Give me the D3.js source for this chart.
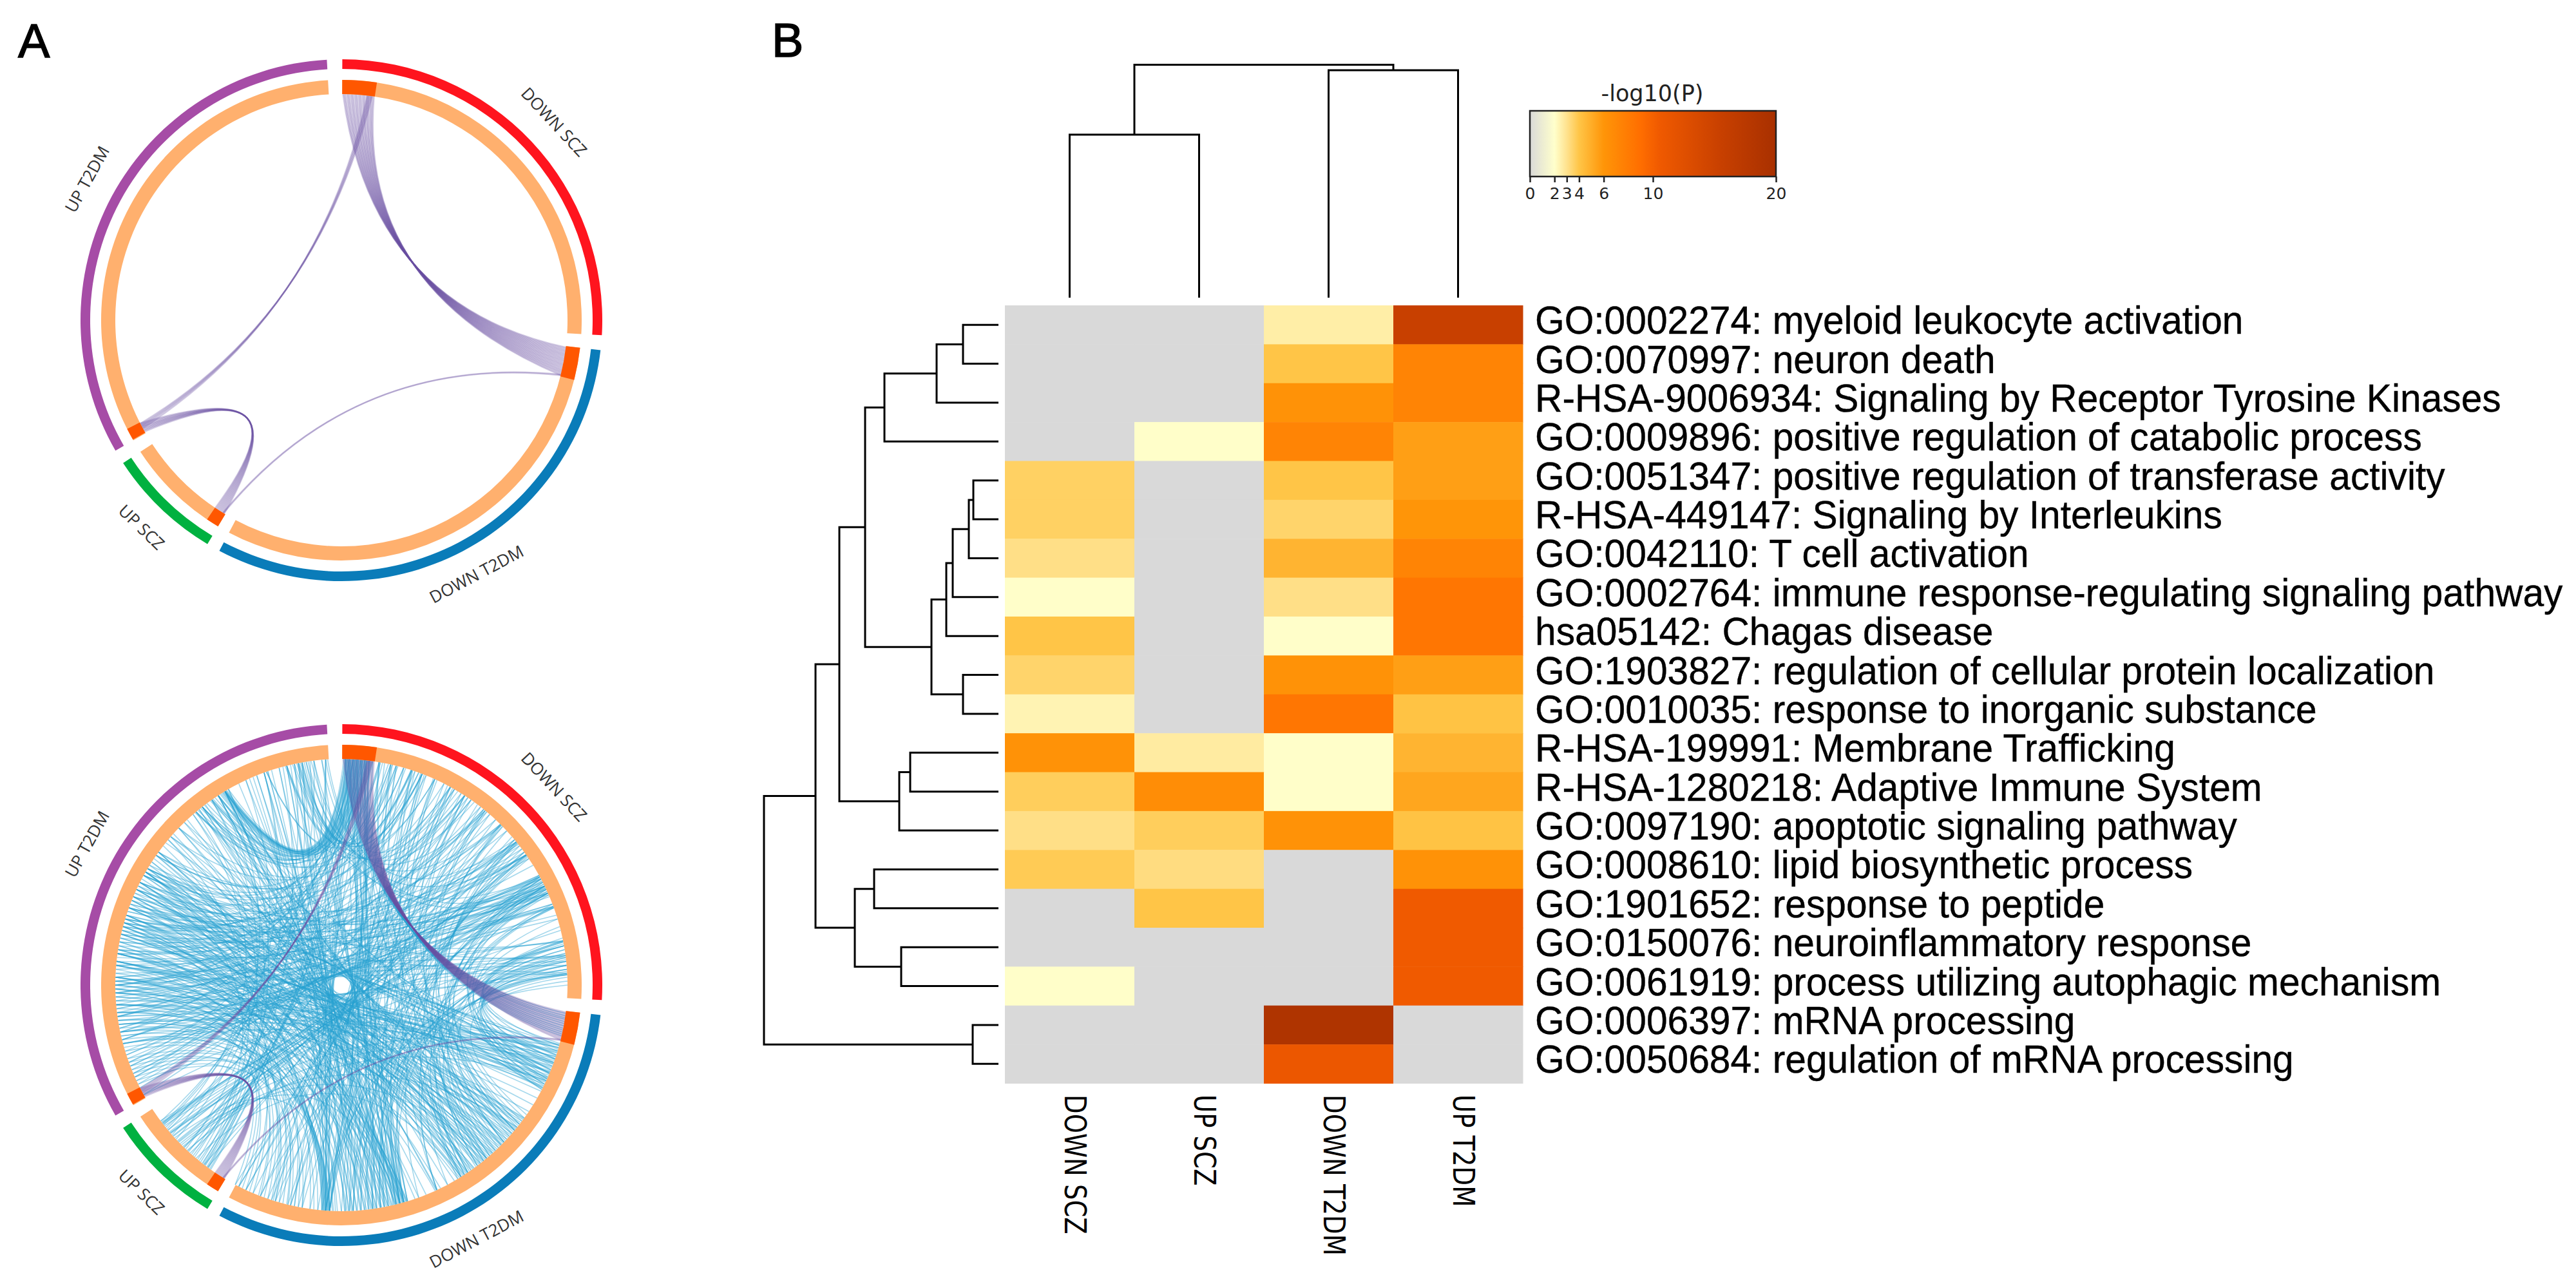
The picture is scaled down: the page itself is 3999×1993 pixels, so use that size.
<!DOCTYPE html>
<html><head><meta charset="utf-8">
<script src="https://d3js.org/d3.v7.min.js"></script>
<style>html,body{margin:0;padding:0;background:#fff}svg{display:block}</style>
</head><body>
<svg id="c" width="3999" height="1993" viewBox="0 0 3999 1993"></svg>
<script>
// ---------- Panel B data ----------
const columns = ["DOWN SCZ","UP SCZ","DOWN T2DM","UP T2DM"];
const rows = [
 "GO:0002274: myeloid leukocyte activation",
 "GO:0070997: neuron death",
 "R-HSA-9006934: Signaling by Receptor Tyrosine Kinases",
 "GO:0009896: positive regulation of catabolic process",
 "GO:0051347: positive regulation of transferase activity",
 "R-HSA-449147: Signaling by Interleukins",
 "GO:0042110: T cell activation",
 "GO:0002764: immune response-regulating signaling pathway",
 "hsa05142: Chagas disease",
 "GO:1903827: regulation of cellular protein localization",
 "GO:0010035: response to inorganic substance",
 "R-HSA-199991: Membrane Trafficking",
 "R-HSA-1280218: Adaptive Immune System",
 "GO:0097190: apoptotic signaling pathway",
 "GO:0008610: lipid biosynthetic process",
 "GO:1901652: response to peptide",
 "GO:0150076: neuroinflammatory response",
 "GO:0061919: process utilizing autophagic mechanism",
 "GO:0006397: mRNA processing",
 "GO:0050684: regulation of mRNA processing"];
const values = [
 [0,0,2.6,15.5],[0,0,4,7.3],[0,0,6.2,7.3],[0,2.05,7.3,5.6],[3.6,0,4,5.6],
 [3.6,0,3.5,6],[3.1,0,4.7,7.3],[2.05,0,3.1,8.4],[4,0,2.05,8.4],[3.5,0,6.2,5.6],
 [2.4,0,8.4,4.1],[6.2,2.7,2.05,4.7],[3.7,6.6,2.05,5.3],[3.1,3.7,6.2,4.1],[3.8,3.2,0,6.2],
 [0,4,0,10.5],[0,0,0,10.5],[2.05,0,0,10.5],[0,0,19,0],[0,0,11,0]];
const colorStops = [0,2,3,4,6,9,10.5,15.5,20];
const colorHexes = ["#d9d9d9","#ffffcc","#ffe28e","#ffc547","#ff9508","#ff6e00","#f05a00","#c84000","#a83000"];
const colorTicks = [0,2,3,4,6,10,20];
// dendrograms: [height, childA, childB]; a number child is a leaf index
const rowTree = [364,
 [284,
  [247,
   [207,
    [177,[96,[55,0,1],2],3],
    [104,[81,[71,[46,[39,4,5],6],7],8],[55,9,10]]],
   [154,[137,11,12],13]],
  [223,[193,14,15],[151,16,17]]],
 [40,18,19]];
const colTree = [361.5,[253,0,1],[353,2,3]];

// ---------- Panel A data (degrees clockwise from 12 o'clock) ----------
const segNames  = ["DOWN SCZ","DOWN T2DM","UP SCZ","UP T2DM"];
const segStart  = [0.2,96.6,210.9,240];
const segEnd    = [93.3,207.9,236.8,356.8];
const segColors = ["#ff141e","#0a7cb9","#00b140","#a64ca6"];
const segLabelAngle = [47,152,224,299];
const hitStart = [0.2,96.6,210.9,240.2];
const hitEnd   = [8.5,104.4,214,243.1];
// purple links: shared genes [from,to]
const purpleSczT2dm = [[0.4,96.9],[0.7,97.2],[1,97.5],[1.4,97.8],[1.7,98.1],[2,98.4],[2.4,98.7],[2.7,99],[3,99.3],[3.4,99.6],[3.7,99.9],[4,100.2],[4.4,100.5],[4.7,100.8],[5,101.1],[5.4,101.4],[5.7,101.7],[6,102],[6.4,102.3],[6.7,102.6],[7,102.9],[7.4,103.2],[7.7,103.5],[8,103.8],[8.3,104.1]];
const purpleSczUpT2dm = [[6.6,241.5],[6.9,241.9],[7.2,242.2],[7.5,242.5],[7.8,242.8]];
const purpleUpPair = [[240.5,211.2],[240.8,211.5],[241,211.8],[241.3,212.1],[241.5,212.4],[241.8,212.7],[242,213],[242.3,213.3],[242.6,213.6],[242.9,213.9]];
const purpleT2dmUpScz = [[103.9,211.4],[104.1,211.6]];
const waists = {sczT2dm:[51,142],sczUp:[300.5,98],upPair:[224,211],t2dmUp:[157.7,132]};
// blue links: shared pathways [from,to]
const blueDownSczUpT2dm = [[1,329],[1.6,329.2],[2.1,328.8],[2.7,329.5],[3,328.4],[3.6,329],[4.2,327.6],[4.7,328.6],[5.3,329.3],[5.9,327.9],[1.3,326.8],[2.4,325.1],[3.3,324.6],[4.4,322.7],[1.9,321.5],[5.6,319.7],[6.4,323.5],[7.2,320.6],[6.8,328.2],[7.8,327],[0.6,330],[2.9,326],[4.9,325.4],[3.9,322],
[14,350],[18,349],[21,348],[33,346],[39.5,351],[28.8,340.6],[50.7,356.5],[64,356],[54.8,353],[61.4,347.5],[24.4,345.6],[44.7,352.3],[66,349.6],[20.9,348.6],[18.2,351.5],[31,355],[12.6,346],[9.6,350.5],[16,340.6],[36,349.2],
[50.7,285],[54.8,290],[61.4,272],[64,276],[66,281],[69.6,288],[62,295],[63.5,268],[64.5,262],[65,258],[61,283],[66.5,300],[50,297],[54,301],[55,264],[39.5,270],[39,278],[44.7,286],[33.1,274],[33,293],[28.8,301],[24.4,306],[20.9,314],[18.2,322],[14,320],[12.6,325],[9.6,329],[78.7,271],[82.5,279],[87.4,266],[87,286],[82,261],[79,292],[86,255],[83,296],[84,273],[69,267],[69.9,277],[70,259],[64.2,284],[62.8,289],[64.8,291],[65.6,263],[63,299],[61.8,275],[51,266],[51.5,282],[52,294],[53,271],[55,287],[56,279],[43,269],[45,291],[40,283],[38,265],[34,287],[32,280],[30,297],[27,289],[22,299],[20,287],[18,305],[16,311],[14.5,278],[12,286],[10,302],[21,270],[19,259],[29,256],[35,252],[41,249],[47,247],[58,246],[67,251],[73,256],[76,244],[2,275],[3,285],[4,295],[5,305],[6,262],[7,270],[1,290],[2.5,258],[4.5,268],[6.5,300],[7.5,281],[1.5,250],[3.5,246],[5.5,272],
[64,248],[61.4,245],[66,250],[69.6,253],[78.7,262],[82.5,264],[87.4,268],[50.7,241],[54.8,244],[61,243],[65,247],[69,252],[72,256],[80,258],[84,263],[85,270],[62,249],[63,241]];
const blueDownT2dmUpT2dm = [[105.5,288],[106,276],[106.5,295],[107,266],[107.5,283],[108,301],[108.5,272],[109,290],[109.5,260],[110,279],[110.5,306],[111,285],[111.5,268],[112,293],[112.7,275],[113,299],[113.5,255],[114,282],[115,270],[115.5,287],[116,263],[117,296],[117.5,322],[114.5,329],[112.2,327],[109.2,320],
[120,278],[122,290],[124,265],[126,284],[126.5,297],[127,273],[128,301],[129,288],[129.6,258],[130,276],[131,293],[131.5,267],[132,281],[133,305],[134,271],[134.7,286],[135,262],[135.5,295],[136,279],[137,300],[137.5,269],[138,290],[138.5,275],[139,257],[140,283],[140.5,297],[141,265],[141.5,314],[142,287],[142.5,272],[143,302],[144,278],[144.5,261],[145,292],[146,283],[146.5,270],[147,295],[147.5,306],[148,276],[148.5,288],[149,255],
[150,322],[152,329],[155,327],[155.5,285],[154,300],[158,319],[160,311],[161,329],
[163,272],[163.2,280],[163.5,290],[163.8,265],[164,297],[164.2,285],[164.5,329],[164.8,327],[165,322],[165.3,276],[165.6,301],[166,269],[166.3,293],[166.6,350],[167,341],[167.5,283],[168,260],[168.5,306],[169,278],[169.7,295],[170,346],[171,288],[171.5,270],[172,255],[172.5,314],[173,299],[173.6,263],[174,280],[175,349],[176,292],[177,274],[177.5,321],[178,286],[178.6,257],[179,305],[180,268],[181,296],[181.5,325],[182,278],[182.3,284],[183,250],[183.2,258],[183.4,265],[183.6,247],[183.8,272],[184,254],[184.2,261],[184.4,279],[184.6,251],[184.8,268],[185,286],[186,293],[187,248],[188,300],[190,259],[191,275],[192,308],[193,263],[193.7,245],[194,287],[195,269],[196,297],[197,253],[197.5,281],[198,260],[199,291],[200,267],[201,249],[201.5,276],[203,285],[204,303],[205,256],[206,272],[207,264],[208,246],
[105.5,282],[106.2,290],[107.3,278],[108.2,293],[109.1,284],[110.2,297],[111.2,276],[112.4,288],[113.2,299],[114.2,286],[115.2,292],[116.4,301],[117.2,305],[118,294],
[126.2,303],[127.5,295],[128.5,309],[129.3,300],[130.5,311],[131.2,314],[132.4,298],[133.5,316],[134.3,304],[135.2,320],[136.5,310],[137.2,322],[138.2,299],[139.5,316],[140.2,325],[141.2,306],[142.2,321],[143.5,327],[144.2,312],[145.5,329],[146.2,317],[147.2,323],[148.2,329],
[155.2,330],[163.3,335],[163.9,341],[164.3,346],[164.9,338],[165.2,349],[165.8,344],[166.2,333],[166.8,351],[167.2,329],[168.2,340],[169.2,353],[170.2,327],[171.2,348],[172.2,336],[173.2,355],[174.2,346],[175.2,342],[176.2,350],[177.2,356],[178.2,338],[179.2,349],
[105.2,275],[106.8,268],[108.4,262],[110.4,258],[112.6,265],[114.6,271],[116.6,260],
[183.1,352],[183.5,344],[183.9,356],[184.1,340],[184.5,347],[184.9,337]];
const blueDownSczDownT2dm = [[78.7,107],[79,110],[80,105.5],[81,113],[82.5,108],[83,116],[84,111],[85,114.5],[86,109],[87.4,105],[87,112],[75,117],[73,115],[70,113],[69.6,117.5],[66,116],[64,114],
[61.4,128],[62,134],[63,140],[64,146],[65,131],[65.5,137],[66.5,143],[69,149],[69.7,155],[61,164],[62.5,170],[63.5,177],[64.2,183],[65,190],[66,197],
[50.7,130],[51,138],[52,145],[53,152],[54,160],[54.8,166],[55.5,175],[56,184],[50,126],[49,142],[47,169],[44.7,135],[45,147],[45.5,163],[43,183],[41,193],[39.5,129],[39,141],[38,165],[37,172],[35,184],[33.1,136],[33,148],[32,164],[30,177],[28.8,132],[28,155],[27,168],[24.4,140],[24,165],[22,183],[20.9,127],[20.5,146],[19,171],[18.2,134],[18,163],[16,183],[14,139],[13,165],[12.6,148],[11,173],[9.6,130],[9.8,184],
[78,130],[79,139],[80,147],[81,165],[82,172],[83,183],[84,134],[85,143],[86,164],[87,176],[88,125],[89,155],[90,201],
[0.8,97.2],[1.3,97.8],[1.8,98.3],[2.3,98.7],[2.8,99.3],[3.3,99.8],[3.8,100.4],[4.3,101],[4.8,101.5],[5.3,102],[5.8,102.5],[6.3,103],[1,164],[2,170],[3,183],[4,166],[5,128],[6,141],[7,177],[1.6,133],[3.6,146],[6.6,190],
[9.6,186],[10.5,192],[12.6,188],[14.2,193.7],[16.5,197],[18.4,191],[20.9,198],[21.5,193],[24.4,201],[25,196],[28.8,205],[29.5,199],[33.1,207],[34,203],[39.5,208],[40,205],[45.4,207],
[78.7,184],[79.5,178],[82.5,174],[83.5,170],[87.4,185],[86.5,169],
[1,178],[2,183],[3,175],[4,184],[5,172],[6,165],[7,168],[8,180],[1.2,184],[2.2,166],[3.2,163],[4.2,179],[5.2,183],[6.2,164],[7.2,171]];
const blueUpScz = [[232.7,62],[232.5,55],[232,70],[231,45],[231.5,80],[230,35],[229.5,66],[229,85],[228,50],[226,110],[226.5,64],[225,129],[224,39],[224.5,140],[223,115],[222,54],[221,20],[220,148],[219,30],[218,13],[217,8],[217.5,2],[216.5,5],[216,345],[216.2,330],[217.2,327],[217.8,320],[218.5,310],[219.5,300],[220.5,340],[221.5,350],[222.5,356],[223.5,325],[227,335],[228.5,329],[230.5,319],[231.8,348],[232.2,340],[233,353],[225.5,165],[227.5,183],[229.2,106],[215.3,3],[215.6,6],
[216.3,44.7],[217.4,50.7],[222.8,51.2],[228.2,54.8],[224.2,55.2],[232.3,61.4],[226.2,62.1],[230.2,64],[229.2,64.6],[233.1,66]];

// ---------- Helpers ----------
const svg = d3.select("#c");
const font = {sans:"'Liberation Sans',Arial,sans-serif", dj:"'DejaVu Sans',sans-serif", open:"'Open Sans',sans-serif"};
const rad = d3.scaleLinear().domain([0,360]).range([0,2*Math.PI]);
const R = {outerHi:405,outerLo:390,innerHi:373,innerLo:351,label:449};
const polar = (deg,r)=>[r*Math.sin(rad(deg)),-r*Math.cos(rad(deg))];
const beta = d3.scaleLinear().domain([30,60,100,125,180]).range([.28,.17,.12,.09,.07]).clamp(true);

function linkPath(a,b,waist){
  const p0=polar(a,R.innerLo),p2=polar(b,R.innerLo);
  let diff=((b-a)%360+540)%360-180;
  let c;
  if(waist){const w=polar(waist[0],waist[1]);c=[2*w[0]-.5*(p0[0]+p2[0]),2*w[1]-.5*(p0[1]+p2[1])];}
  else c=polar(a+diff/2,R.innerLo*beta(Math.abs(diff)));
  const p=d3.path();p.moveTo(p0[0],p0[1]);p.quadraticCurveTo(c[0],c[1],p2[0],p2[1]);return p.toString();
}
const arc=d3.arc();
function drawChord(cx,cy,withBlue){
  const g=svg.append("g").attr("transform",`translate(${cx},${cy})`);
  const blue=[...blueDownSczUpT2dm,...blueDownT2dmUpT2dm,...blueDownSczDownT2dm,...blueUpScz];
  if(withBlue){
    g.append("g").selectAll("path").data(blue).join("path")
     .attr("d",d=>linkPath(d[0],d[1])).attr("fill","none")
     .attr("stroke","#29a3d2").attr("stroke-width",1.6).attr("stroke-opacity",.42);
  }
  const purple=[
   ...purpleSczT2dm.map(l=>[l,waists.sczT2dm]),
   ...purpleSczUpT2dm.map(l=>[l,waists.sczUp]),
   ...purpleUpPair.map(l=>[l,waists.upPair]),
   ...purpleT2dmUpScz.map(l=>[l,waists.t2dmUp])];
  g.append("g").selectAll("path").data(purple).join("path")
   .attr("d",d=>linkPath(d[0][0],d[0][1],d[1])).attr("fill","none")
   .attr("stroke","#6a51a3").attr("stroke-width",2.3).attr("stroke-opacity",.3);
  segNames.forEach((n,i)=>{
    const ang=o=>({startAngle:rad(segStart[i]),endAngle:rad(segEnd[i]),...o});
    g.append("path").attr("d",arc(ang({innerRadius:R.outerLo,outerRadius:R.outerHi}))).attr("fill",segColors[i]);
    g.append("path").attr("d",arc(ang({innerRadius:R.innerLo,outerRadius:R.innerHi}))).attr("fill","#ffb06e");
    g.append("path").attr("d",arc({innerRadius:R.innerLo,outerRadius:R.innerHi,startAngle:rad(hitStart[i]),endAngle:rad(hitEnd[i])})).attr("fill","#ff5700");
    const a=segLabelAngle[i],pos=polar(a,R.label),rot=(a>90&&a<270)?a-180:a;
    g.append("text").attr("transform",`translate(${pos[0]},${pos[1]}) rotate(${rot})`)
     .attr("text-anchor","middle").attr("dominant-baseline","middle")
     .attr("font-family",font.open).attr("font-size",26).attr("fill","#333").text(n);
  });
}
drawChord(530,497,false);
drawChord(530,1529,true);

// panel letters
[["A",28,89],["B",1198,88]].forEach(t=>svg.append("text").attr("x",t[1]).attr("y",t[2])
  .attr("font-family",font.sans).attr("font-size",74).attr("fill","#000").attr("stroke","#000").attr("stroke-width",1.5).text(t[0]));

// ---------- Heatmap ----------
const x=d3.scaleBand().domain(columns).range([1560,2364]);
const y=d3.scaleBand().domain(rows).range([474,1681.5]);
const color=d3.scaleLinear().domain(colorStops).range(colorHexes).clamp(true);
const hm=svg.append("g");
rows.forEach((r,i)=>columns.forEach((c,j)=>{
  hm.append("rect").attr("x",x(c)).attr("y",y(r)).attr("width",x.bandwidth()+.5).attr("height",y.bandwidth()+.5)
    .attr("fill",color(values[i][j]));
}));
svg.append("g").selectAll("text").data(rows).join("text")
  .attr("transform",d=>`translate(2383,${y(d)+y.bandwidth()/2+14}) scale(1,1.03)`)
  .attr("font-family",font.sans).attr("font-size",58.7).attr("fill","#000")
  .attr("stroke","#000").attr("stroke-width",.4).text(d=>d);
columns.forEach(c=>{
  svg.append("text").attr("transform",`translate(${x(c)+x.bandwidth()/2-8},1699) rotate(90) scale(1,1.18)`)
    .attr("font-family",font.dj).attr("font-size",38.5).attr("fill","#000").text(c);
});

// dendrograms
function dendro(tree,leafPos,h,horizontal,sw){
  const root=d3.hierarchy(tree,d=>Array.isArray(d)?d.slice(1):null);
  const g=svg.append("g").attr("fill","none").attr("stroke","#000").attr("stroke-width",sw);
  const line=d3.line();
  root.eachAfter(n=>{
    if(!n.children){n.p=leafPos(n.data);n.hh=h(0);return;}
    n.hh=h(n.data[0]);
    n.p=(n.children[0].p+n.children[1].p)/2;
    const pts=[[n.children[0].hh,n.children[0].p],[n.hh,n.children[0].p],[n.hh,n.children[1].p],[n.children[1].hh,n.children[1].p]];
    g.append("path").attr("d",line(horizontal?pts:pts.map(q=>[q[1],q[0]])));
  });
}
dendro(rowTree,i=>y(rows[i])+y.bandwidth()/2,d3.scaleLinear().domain([0,364]).range([1550,1186]),true,3);
dendro(colTree,i=>x(columns[i])+x.bandwidth()/2,d3.scaleLinear().domain([0,361.5]).range([462,100.5]),false,3);

// colour bar
const bar=d3.scaleLinear().domain([0,20]).range([2375,2757]);
const grad=svg.append("defs").append("linearGradient").attr("id","cb");
colorStops.forEach(v=>grad.append("stop").attr("offset",v/20).attr("stop-color",color(v)));
svg.append("rect").attr("x",bar(0)).attr("y",172).attr("width",bar(20)-bar(0)).attr("height",102)
  .attr("fill","url(#cb)").attr("stroke","#222").attr("stroke-width",2.5);
const ax=svg.append("g").attr("transform","translate(0,274)")
  .call(d3.axisBottom(bar).tickValues(colorTicks).tickFormat(d3.format("d")).tickSize(9).tickPadding(8));
ax.select(".domain").remove();
ax.selectAll("line").attr("stroke","#222").attr("stroke-width",2.5);
ax.selectAll("text").attr("font-family",font.dj).attr("font-size",25).attr("fill","#222");
svg.append("text").attr("x",2565).attr("y",157).attr("text-anchor","middle")
  .attr("font-family",font.dj).attr("font-size",35).attr("fill","#222").text("-log10(P)");
</script>
</body></html>
